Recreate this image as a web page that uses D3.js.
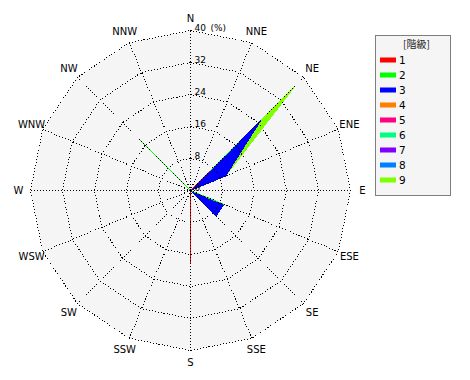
<!DOCTYPE html>
<html><head><meta charset="utf-8">
<script src="https://cdn.jsdelivr.net/npm/d3@7"></script>
<style>body{margin:0;background:#fff}svg{display:block}</style>
</head><body>
<svg id="c" width="470" height="380"></svg>
<script>
const directions = ["N","NNE","NE","ENE","E","ESE","SE","SSE","S","SSW","SW","WSW","W","WNW","NW","NNW"];
const classNames = ["1","2","3","4","5","6","7","8","9"];
const classColors = ["#ff0000","#00ff00","#0000ff","#ff8000","#ff0080","#00ff80","#8000ff","#0080ff","#80ff00"];
// frequency (%) of each class per direction, in direction order
const class1 = [0,0,6.8,0,0,0,0,0,18,0,0,0,0,0,0,0];
const class2 = [0,0,10.6,0,0,9,0,0,0,0,0,0,0,0,17.7,0];
const class3 = [0,0,7.6,9.5,0,0,9,0,0,0,0,0,0,0,0,0];
const class4 = [0,0,0,0,0,0,0,0,0,0,0,0,0,0,0,0];
const class5 = [0,0,0,0,0,0,0,0,0,0,0,0,0,0,0,0];
const class6 = [0,0,0,0,0,0,0,0,0,0,0,0,0,0,0,0];
const class7 = [0,0,0,0,0,0,0,0,0,0,0,0,0,0,0,0];
const class8 = [0,0,0,0,0,0,0,0,0,0,0,0,0,0,0,0];
const class9 = [0,0,12,0,0,0,0,0,0,0,0,0,0,0,0,0];
const ringTicks = [8,16,24,32,40];

const series = [class1,class2,class3,class4,class5,class6,class7,class8,class9];
const svg = d3.select("#c");
const cx = 190.5, cy = 190.5;
const r = d3.scaleLinear().domain([0,40]).range([0,160]);
const ang = d3.scaleLinear().domain([0,directions.length]).range([0,2*Math.PI]);
const g = svg.append("g").attr("transform",`translate(${cx},${cy})`);

const ringLine = d3.lineRadial().angle((d,i)=>ang(i)).radius(d=>r(d)).curve(d3.curveLinearClosed);

// background
g.append("path").attr("d", ringLine(directions.map(()=>40))).attr("fill","#f5f5f5").attr("stroke","none");

// cumulative data
const cum = [];
series.forEach((s,k)=>{ cum.push(s.map((v,i)=> v + (k>0?cum[k-1][i]:0))); });
for (let k = series.length-1; k >= 0; k--) {
  if (d3.max(series[k]) === 0) continue;
  g.append("path").attr("d", ringLine(cum[k]))
    .attr("fill", classColors[k]).attr("stroke", classColors[k]).attr("stroke-width",1)
    .attr("shape-rendering","crispEdges");
}

// grid
ringTicks.forEach(t=>{
  g.append("path").attr("d", ringLine(directions.map(()=>t)))
   .attr("fill","none").attr("stroke","#000").attr("stroke-dasharray","1,2")
   .attr("shape-rendering","crispEdges");
});
directions.forEach((d,i)=>{
  const a = ang(i);
  g.append("line").attr("x1",0).attr("y1",0)
   .attr("x2", r(40)*Math.sin(a)).attr("y2", -r(40)*Math.cos(a))
   .attr("stroke","#000").attr("stroke-dasharray","1,2")
   .attr("shape-rendering","crispEdges");
  g.append("text").attr("x", 172*Math.sin(a)).attr("y", -172*Math.cos(a))
   .attr("text-anchor","middle").attr("dominant-baseline","central")
   .attr("font-family","DejaVu Sans").attr("font-size",10).attr("fill","#000").text(d);
});
// ring labels
[0].concat(ringTicks).forEach(t=>{
  g.append("text").attr("x",4).attr("y",-r(t)-3).attr("dominant-baseline","central")
   .attr("font-family","DejaVu Sans").attr("font-size",9).attr("fill","#000").text(t);
});
g.append("text").attr("x",20).attr("y",-r(40)-3).attr("dominant-baseline","central")
  .attr("font-family","DejaVu Sans").attr("font-size",9).text("(%)");

// legend
const lg = svg.append("g").attr("transform","translate(375.5,35.5)");
lg.append("rect").attr("width",75).attr("height",160).attr("fill","#f5f5f5")
  .attr("stroke","#000").attr("stroke-dasharray","1,1");
lg.append("text").attr("x",41).attr("y",8).attr("text-anchor","middle").attr("dominant-baseline","central")
  .attr("font-family","Noto Sans CJK JP").attr("font-size",10).attr("fill","#222").text("[階級]");
classNames.forEach((c,i)=>{
  const y = 24.5 + i*15;
  lg.append("rect").attr("x",4.5).attr("y",y-2.5).attr("width",16).attr("height",5).attr("fill",classColors[i]);
  lg.append("text").attr("x",23.5).attr("y",y).attr("dominant-baseline","central")
    .attr("font-family","DejaVu Sans").attr("font-size",10.5).attr("fill","#000").text(c);
});
</script>
</body></html>
